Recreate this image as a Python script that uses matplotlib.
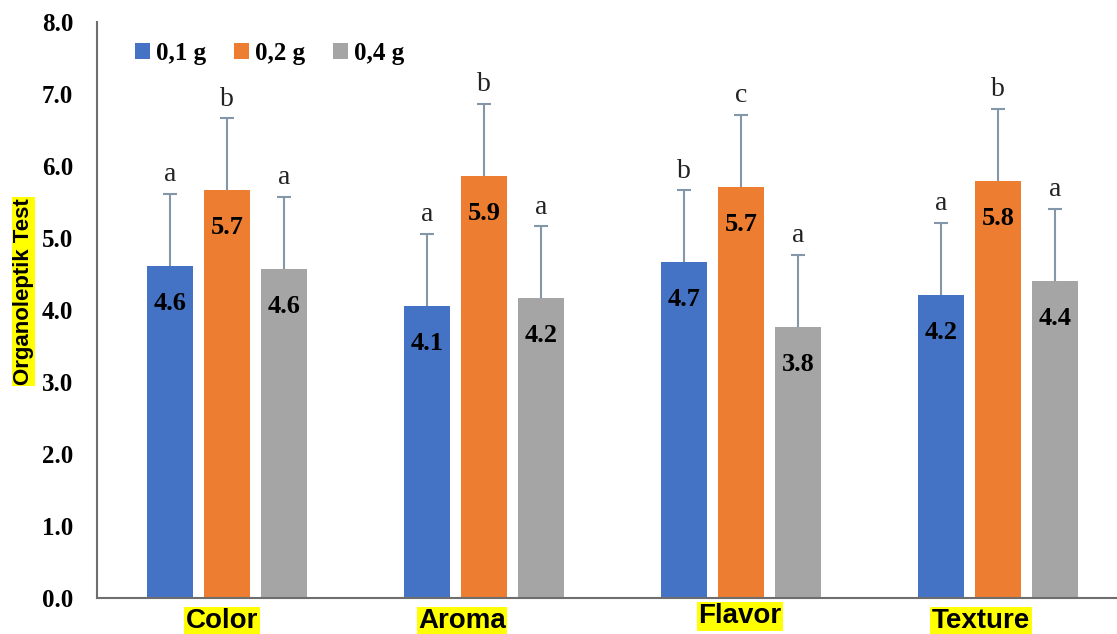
import matplotlib
matplotlib.use("Agg")
import matplotlib.pyplot as plt
import matplotlib.transforms as mtransforms
import numpy as np

# data
categories = ["Color", "Aroma", "Flavor", "Texture"]
series = ["0,1 g", "0,2 g", "0,4 g"]
means = {
    "0,1 g": [4.61, 4.06, 4.66, 4.21],
    "0,2 g": [5.66, 5.86, 5.71, 5.79],
    "0,4 g": [4.57, 4.16, 3.76, 4.40],
}
errors = {
    "0,1 g": [1.0, 1.0, 1.0, 1.0],
    "0,2 g": [1.0, 1.0, 1.0, 1.0],
    "0,4 g": [1.0, 1.0, 1.0, 1.0],
}
letters = {
    "0,1 g": ["a", "a", "b", "a"],
    "0,2 g": ["b", "b", "c", "b"],
    "0,4 g": ["a", "a", "a", "a"],
}
yticks = [0, 1, 2, 3, 4, 5, 6, 7, 8]

colors = ["#4472C4", "#ED7D31", "#A5A5A5"]
serif = "Liberation Serif"
sans = "Liberation Sans"

fig = plt.figure(figsize=(11.17, 6.34), dpi=100)
ax = fig.add_axes([0.0868, 0.0568, 0.9132, 0.9085])

x = np.arange(len(categories))
w = 0.179
step = 0.222
for i, s in enumerate(series):
    xs = x + (i - 1) * step
    m = np.array(means[s])
    e = np.array(errors[s])
    ax.bar(xs, m, width=w, color=colors[i], label=s, zorder=2)
    eb = ax.errorbar(xs, m, yerr=[np.zeros_like(e), e], fmt="none",
                     ecolor="#8497A8", elinewidth=1.5, capsize=4.7, capthick=1.5, zorder=3)
    # only the upper cap is shown
    eb[1][0].set_visible(False)
    for xi, mi, ei, lt in zip(xs, m, e, letters[s]):
        ax.annotate(f"{mi:.1f}", (xi, mi), xytext=(0, -27), textcoords="offset points",
                    ha="center", va="center", fontsize=19, fontweight="bold",
                    family=serif, color="black", zorder=4)
        ax.annotate(lt, (xi, mi + ei), xytext=(0, 5), textcoords="offset points",
                    ha="center", va="bottom", fontsize=20, family=serif, color="#222222")

ax.set_xlim(-0.506, 3.463)
ax.set_ylim(0, 8)
ax.set_yticks(yticks)
ax.set_yticklabels([f"{v:.1f}" for v in yticks], fontsize=18, fontweight="bold", family=serif)
ax.tick_params(axis="y", length=0, pad=17)
ax.tick_params(axis="x", length=0, pad=1)

ax.set_xticks(x)
ax.set_xticklabels(categories, fontsize=20, fontweight="bold", family=sans)
# category labels are not quite centred in the original
nudges = [(-5, -9), (-22, -9), (-1, -4), (-17, -9)]
for lab, (dx, dy) in zip(ax.get_xticklabels(), nudges):
    lab.set_bbox(dict(facecolor="#FFFF00", edgecolor="none", pad=1))
    lab.set_transform(lab.get_transform() + mtransforms.ScaledTranslation(dx / 100, dy / 100, fig.dpi_scale_trans))

for side in ["top", "right"]:
    ax.spines[side].set_visible(False)
ax.spines["left"].set_color("#6E6E6E")
ax.spines["bottom"].set_color("#6E6E6E")
ax.spines["left"].set_linewidth(1.5)
ax.spines["bottom"].set_linewidth(1.5)

fig.text(0.021, 0.54, "Organoleptik Test", rotation=90, ha="center", va="center",
         fontsize=16, fontweight="bold", family=sans,
         bbox=dict(facecolor="#FFFF00", edgecolor="none", pad=1))

leg = ax.legend(loc="upper left", bbox_to_anchor=(0.015, 1.005), ncol=3, frameon=False,
                handlelength=0.6, handleheight=0.6, handletextpad=0.25, columnspacing=1.1,
                prop={"family": serif, "weight": "bold", "size": 18})

fig.savefig("out.png", dpi=100)
